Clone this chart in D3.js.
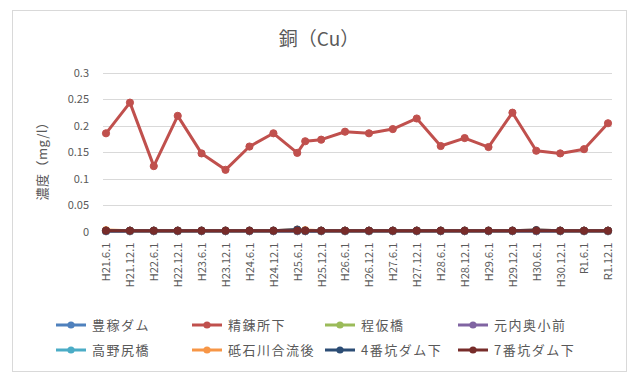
<!DOCTYPE html>
<html><head><meta charset="utf-8">
<script src="https://cdn.jsdelivr.net/npm/d3@7"></script>
<style>body{margin:0;background:#fff;} svg{display:block;}</style>
</head><body>
<script>
const dates = ["2009-06-01","2009-12-01","2010-06-01","2010-12-01","2011-06-01","2011-12-01","2012-06-01","2012-12-01","2013-06-01","2013-08-01","2013-12-01","2014-06-01","2014-12-01","2015-06-01","2015-12-01","2016-06-01","2016-12-01","2017-06-01","2017-12-01","2018-06-01","2018-12-01","2019-06-01","2019-12-01"];
const tickDates = ["2009-06-01","2009-12-01","2010-06-01","2010-12-01","2011-06-01","2011-12-01","2012-06-01","2012-12-01","2013-06-01","2013-12-01","2014-06-01","2014-12-01","2015-06-01","2015-12-01","2016-06-01","2016-12-01","2017-06-01","2017-12-01","2018-06-01","2018-12-01","2019-06-01","2019-12-01"];
const tickLabels = ["H21.6.1","H21.12.1","H22.6.1","H22.12.1","H23.6.1","H23.12.1","H24.6.1","H24.12.1","H25.6.1","H25.12.1","H26.6.1","H26.12.1","H27.6.1","H27.12.1","H28.6.1","H28.12.1","H29.6.1","H29.12.1","H30.6.1","H30.12.1","R1.6.1","R1.12.1"];
const yTicks = [0,0.05,0.1,0.15,0.2,0.25,0.3];
const seriesNames = ["豊稼ダム","精錬所下","程仮橋","元内奥小前","高野尻橋","砥石川合流後","4番坑ダム下","7番坑ダム下"];
const seriesColors = ["#4F81BD","#C0504D","#9BBB59","#8064A2","#4BACC6","#F79646","#2C4D75","#772C2A"];
const s1 = [0.001,0.001,0.001,0.001,0.001,0.001,0.001,0.001,0.002,0.001,0.001,0.001,0.001,0.001,0.001,0.001,0.001,0.001,0.001,0.001,0.001,0.001,0.001];
const s2 = [0.186,0.244,0.124,0.219,0.148,0.117,0.161,0.186,0.149,0.171,0.174,0.189,0.186,0.194,0.214,0.162,0.177,0.160,0.225,0.153,0.148,0.156,0.205];
const s3 = [0.001,0.001,0.001,0.001,0.001,0.001,0.001,0.001,0.001,0.001,0.001,0.001,0.001,0.001,0.001,0.001,0.001,0.001,0.001,0.001,0.001,0.001,0.001];
const s4 = [0.001,0.001,0.001,0.001,0.001,0.001,0.001,0.001,0.001,0.001,0.001,0.001,0.001,0.001,0.001,0.001,0.001,0.001,0.001,0.001,0.001,0.001,0.001];
const s5 = [0.002,0.002,0.002,0.002,0.002,0.002,0.002,0.002,0.002,0.002,0.002,0.002,0.002,0.002,0.002,0.002,0.002,0.002,0.002,0.002,0.002,0.002,0.002];
const s6 = [0.003,0.002,0.002,0.002,0.002,0.002,0.002,0.002,0.004,0.003,0.002,0.002,0.002,0.002,0.002,0.002,0.002,0.002,0.002,0.003,0.002,0.002,0.002];
const s7 = [0.002,0.002,0.002,0.002,0.002,0.002,0.002,0.002,0.004,0.002,0.002,0.002,0.002,0.002,0.002,0.002,0.002,0.002,0.002,0.003,0.002,0.002,0.002];
const s8 = [0.002,0.002,0.002,0.002,0.002,0.002,0.002,0.002,0.002,0.002,0.002,0.002,0.002,0.002,0.002,0.002,0.002,0.002,0.002,0.002,0.002,0.002,0.002];
const seriesValues = [s1,s2,s3,s4,s5,s6,s7,s8];

const W = 629, H = 374;
const font = "'Noto Sans CJK JP','Noto Sans',sans-serif";
const svg = d3.select("body").append("svg").attr("width", W).attr("height", H);
svg.append("rect").attr("x",0).attr("y",0).attr("width",W).attr("height",H).attr("fill","#fff");
svg.append("rect").attr("x",12.5).attr("y",10.5).attr("width",614).attr("height",361)
  .attr("fill","#fff").attr("stroke","#d9d9d9").attr("stroke-width",1);

const parse = d3.utcParse("%Y-%m-%d");
const x = d3.scaleUtc().domain([parse(dates[0]), parse(dates[dates.length-1])]).range([106, 608]);
const y = d3.scaleLinear().domain([0, 0.3]).range([231.7, 73]);
const plotL = 103, plotR = 612;

// gridlines
svg.append("g").selectAll("line").data(yTicks).join("line")
  .attr("x1", plotL).attr("x2", plotR)
  .attr("y1", d => Math.round(y(d)) + 0.5).attr("y2", d => Math.round(y(d)) + 0.5)
  .attr("stroke", "#d9d9d9").attr("stroke-width", 1);

// y axis labels
const yAxis = d3.axisLeft(y).tickValues(yTicks).tickSize(0).tickPadding(0).tickFormat(d => d3.format("")(d));
const gy = svg.append("g").attr("transform", `translate(${plotL - 14},0)`).call(yAxis);
gy.select(".domain").remove();
gy.selectAll("text").attr("font-family", font).attr("font-size", 11).attr("fill", "#595959");

// x axis
const xAxis = d3.axisBottom(x).tickValues(tickDates.map(parse)).tickSize(0).tickFormat((d,i) => tickLabels[i]);
const gx = svg.append("g").attr("transform", `translate(0,${y(0)})`).call(xAxis);
gx.select(".domain").remove();
gx.selectAll("text").attr("font-family", font).attr("font-size", 11).attr("fill", "#595959")
  .attr("transform", "rotate(-90)").attr("text-anchor", "end").attr("dy", "0.35em").attr("x", -11).attr("y", 0);

// title
svg.append("text").attr("x", 319).attr("y", 46).attr("text-anchor", "middle")
  .attr("font-family", font).attr("font-size", 19).attr("fill", "#595959").text("銅（Cu）");

// y title
svg.append("text").attr("transform", "translate(47,158) rotate(-90)").attr("text-anchor", "middle")
  .attr("font-family", font).attr("font-size", 13).attr("letter-spacing", 0.5).attr("fill", "#595959").text("濃度（mg/l）");

// series
const line = d3.line().x((d,i) => x(parse(dates[i]))).y(d => y(d));
seriesValues.forEach((vals, si) => {
  const g = svg.append("g");
  g.append("path").datum(vals).attr("d", line).attr("fill", "none")
    .attr("stroke", seriesColors[si]).attr("stroke-width", 3).attr("stroke-linejoin", "round");
  g.selectAll("circle").data(vals).join("circle")
    .attr("cx", (d,i) => x(parse(dates[i]))).attr("cy", d => y(d)).attr("r", 3.6)
    .attr("fill", seriesColors[si]).attr("stroke", seriesColors[si]).attr("stroke-width", 1);
});

// legend
const legX = [56, 192, 325, 458], legY = [325, 350];
seriesNames.forEach((name, i) => {
  const lx = legX[i % 4], ly = legY[Math.floor(i / 4)];
  const g = svg.append("g");
  g.append("line").attr("x1", lx).attr("x2", lx + 30).attr("y1", ly).attr("y2", ly)
    .attr("stroke", seriesColors[i]).attr("stroke-width", 3);
  g.append("circle").attr("cx", lx + 15).attr("cy", ly).attr("r", 3.6).attr("fill", seriesColors[i]);
  g.append("text").attr("x", lx + 36).attr("y", ly).attr("dy", "0.35em")
    .attr("font-family", font).attr("font-size", 13).attr("letter-spacing", 1.5).attr("fill", "#595959").text(name);
});
</script>
</body></html>
